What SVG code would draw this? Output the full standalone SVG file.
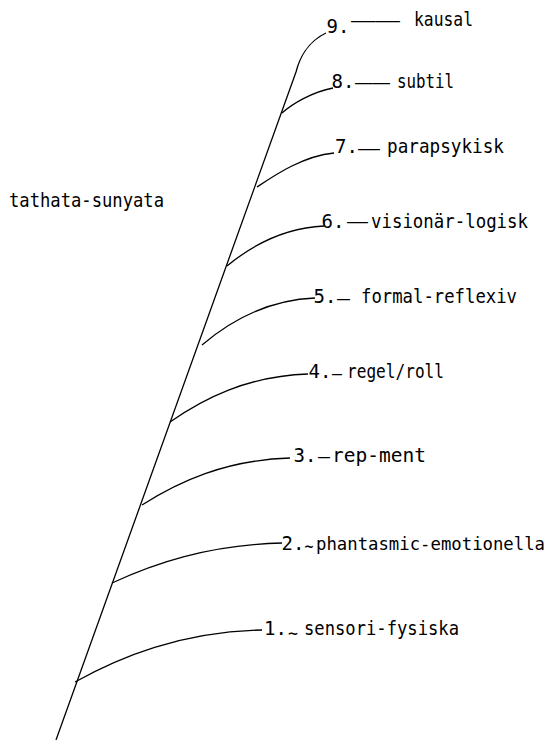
<svg xmlns="http://www.w3.org/2000/svg" width="553" height="740" viewBox="0 0 553 740">
<style>
.t{font-family:"DejaVu Sans Mono","Liberation Mono",monospace;font-size:19px;fill:#000}
.c{fill:none;stroke:#000;stroke-width:1.3}
</style>
<rect width="553" height="740" fill="#fff"/>
<g id="connectors">
<path class="c" d="M56,740 L296,72 C299,60 307,42 326,33"/>
<path class="c" d="M75,682 C120,657 180,632 262,630"/>
<path class="c" d="M112,583 C153,564 207,545 282,543"/>
<path class="c" d="M142,505 C178,482 225,460 290,458"/>
<path class="c" d="M170,422 C203,399 247,376 308,374"/>
<path class="c" d="M202,345 C229,322 265,300 315,298"/>
<path class="c" d="M227,266 C250,247 281,228 324,226"/>
<path class="c" d="M257,187 C275,175 303,156 334,153"/>
<path class="c" d="M282,113 C292,104 312,92 333,88"/>
</g>
<g id="root">
<text class="t" x="9" y="207" textLength="155" lengthAdjust="spacingAndGlyphs">tathata-sunyata</text>
</g>
<g id="n9">
<text class="t" x="326.5" y="33">9.</text>
<text class="t" x="351" y="27" textLength="49" lengthAdjust="spacingAndGlyphs">——</text>
<text class="t" x="414" y="26" textLength="59" lengthAdjust="spacingAndGlyphs">kausal</text>
</g>
<g id="n8">
<text class="t" x="331.5" y="88">8.</text>
<text class="t" x="355" y="89" textLength="35" lengthAdjust="spacingAndGlyphs">——</text>
<text class="t" x="397" y="88" textLength="57" lengthAdjust="spacingAndGlyphs">subtil</text>
</g>
<g id="n7">
<text class="t" x="335" y="153">7.</text>
<text class="t" x="358" y="155" textLength="22" lengthAdjust="spacingAndGlyphs">—</text>
<text class="t" x="387" y="153" textLength="117" lengthAdjust="spacingAndGlyphs">parapsykisk</text>
</g>
<g id="n6">
<text class="t" x="321.5" y="228">6.</text>
<text class="t" x="347" y="228" textLength="21" lengthAdjust="spacingAndGlyphs">—</text>
<text class="t" x="371" y="228" textLength="157" lengthAdjust="spacingAndGlyphs">visionär-logisk</text>
</g>
<g id="n5">
<text class="t" x="313.5" y="303">5.</text>
<text class="t" x="337" y="305" textLength="13" lengthAdjust="spacingAndGlyphs">–</text>
<text class="t" x="361" y="303" textLength="156" lengthAdjust="spacingAndGlyphs">formal-reflexiv</text>
</g>
<g id="n4">
<text class="t" x="308.5" y="378">4.</text>
<text class="t" x="332" y="380" textLength="10" lengthAdjust="spacingAndGlyphs">–</text>
<text class="t" x="347" y="378" textLength="97" lengthAdjust="spacingAndGlyphs">regel/roll</text>
</g>
<g id="n3">
<text class="t" x="293.5" y="462">3.</text>
<text class="t" x="318" y="463" textLength="12" lengthAdjust="spacingAndGlyphs">–</text>
<text class="t" x="332" y="462" textLength="94" lengthAdjust="spacingAndGlyphs">rep-ment</text>
</g>
<g id="n2">
<text class="t" x="281.5" y="550">2.</text>
<text class="t" x="304.5" y="553" textLength="9" lengthAdjust="spacingAndGlyphs">~</text>
<text class="t" x="316" y="550" style="font-size:17.5px" textLength="229" lengthAdjust="spacingAndGlyphs">phantasmic-emotionella</text>
</g>
<g id="n1">
<text class="t" x="264" y="635">1.</text>
<text class="t" x="288" y="640" textLength="10" lengthAdjust="spacingAndGlyphs">~</text>
<text class="t" x="304" y="635" textLength="155" lengthAdjust="spacingAndGlyphs">sensori-fysiska</text>
</g>
</svg>
